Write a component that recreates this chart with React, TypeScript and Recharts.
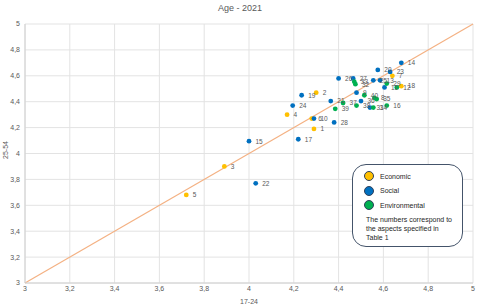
import React from 'react';
import {
  ScatterChart,
  Scatter,
  XAxis,
  YAxis,
  CartesianGrid,
  ReferenceLine,
  LabelList,
} from 'recharts';

// axis ticks (both axes share the 3..5 range)
const axisTicks = [3, 3.2, 3.4, 3.6, 3.8, 4, 4.2, 4.4, 4.6, 4.8, 5];

// Economic aspects
const economicIds = ['1', '2', '3', '4', '5', '6', '7', '18'];
const economicX = [4.29, 4.3, 3.89, 4.17, 3.72, 4.28, 4.64, 4.68];
const economicY = [4.19, 4.47, 3.9, 4.3, 3.68, 4.27, 4.6, 4.52];

// Social aspects
const socialIds = ['14', '20', '23', '26', '27', '25', '13', '11', '9', '19', '24', '10', '21', '36', '31', '28', '17', '15', '22'];
const socialX = [4.68, 4.575, 4.63, 4.4, 4.465, 4.555, 4.585, 4.605, 4.48, 4.235, 4.195, 4.29, 4.365, 4.5, 4.54, 4.38, 4.22, 4.0, 4.03];
const socialY = [4.7, 4.645, 4.63, 4.58, 4.58, 4.565, 4.565, 4.51, 4.47, 4.45, 4.37, 4.27, 4.405, 4.405, 4.355, 4.24, 4.11, 4.095, 3.77];

// Environmental aspects
const environmentalIds = ['33', '32', '29', '12', '40', '35', '37', '39', '38', '34', '16', '8'];
const environmentalX = [4.47, 4.475, 4.615, 4.66, 4.515, 4.57, 4.42, 4.385, 4.48, 4.555, 4.615, 4.56];
const environmentalY = [4.555, 4.535, 4.54, 4.51, 4.45, 4.42, 4.39, 4.345, 4.37, 4.355, 4.37, 4.43];

const toPoints = (ids: string[], xs: number[], ys: number[]) =>
  ids.map((id, i) => ({ id, x: xs[i], y: ys[i] }));

const economic = toPoints(economicIds, economicX, economicY);
const social = toPoints(socialIds, socialX, socialY);
const environmental = toPoints(environmentalIds, environmentalX, environmentalY);

const FONT = '"Liberation Sans", Arial, sans-serif';
const fmt = (v: number) => String(v).replace('.', ',');

const legendItems = [
  { name: 'Economic', color: '#FFC000' },
  { name: 'Social', color: '#0070C0' },
  { name: 'Environmental', color: '#00B050' },
];

// small dot, like the Excel markers
const dot = (color: string) => (props: any) => (
  <circle cx={props.cx} cy={props.cy} r={2.4} fill={color} />
);

export default function App() {
  const tick = { fontSize: 7, fill: '#595959', fontFamily: FONT };
  const pointLabel = { fontSize: 6.5, fill: '#595959', fontFamily: FONT };

  return (
    <div style={{ position: 'absolute', left: 0, top: 0, width: 480, height: 304, background: '#fff', fontFamily: FONT }}>
      <div style={{ position: 'absolute', top: 3, width: 480, textAlign: 'center', fontSize: 9, color: '#595959' }}>
        Age - 2021
      </div>
      <ScatterChart width={480} height={304} margin={{ top: 24, right: 7, bottom: 0, left: 0 }}>
        <CartesianGrid stroke="#e3e3e3" />
        <XAxis
          type="number"
          dataKey="x"
          domain={[3, 5]}
          ticks={axisTicks}
          tickFormatter={fmt}
          tickLine={false}
          tickSize={2}
          tickMargin={1}
          height={21}
          stroke="#d0d0d0"
          tick={tick}
          label={{ value: '17-24', position: 'insideBottom', offset: 0, style: { fontSize: 7, fill: '#595959', fontFamily: FONT } }}
        />
        <YAxis
          type="number"
          dataKey="y"
          domain={[3, 5]}
          ticks={axisTicks}
          tickFormatter={fmt}
          tickLine={false}
          tickSize={3}
          tickMargin={2}
          width={25}
          stroke="#d0d0d0"
          tick={tick}
          label={{
            content: () => (
              <text x={6} y={150} transform="rotate(-90 6 150)" textAnchor="middle" dominantBaseline="middle" fontSize={7} fill="#595959" fontFamily={FONT}>
                25-54
              </text>
            ),
          }}
        />
        <ReferenceLine segment={[{ x: 3, y: 3 }, { x: 5, y: 5 }]} stroke="#f4b183" strokeWidth={1.2} />
        <Scatter data={economic} shape={dot('#FFC000')} isAnimationActive={false}>
          <LabelList dataKey="id" position="right" offset={2} style={pointLabel} />
        </Scatter>
        <Scatter data={social} shape={dot('#0070C0')} isAnimationActive={false}>
          <LabelList dataKey="id" position="right" offset={2} style={pointLabel} />
        </Scatter>
        <Scatter data={environmental} shape={dot('#00B050')} isAnimationActive={false}>
          <LabelList dataKey="id" position="right" offset={2} style={pointLabel} />
        </Scatter>
      </ScatterChart>

      {/* legend box */}
      <div
        style={{
          position: 'absolute',
          left: 352,
          top: 164,
          width: 111,
          height: 83,
          border: '1.3px solid #44546a',
          borderRadius: 14,
          background: '#fff',
          boxSizing: 'border-box',
          color: '#262626',
          fontSize: 7,
        }}
      >
        {legendItems.map((item, i) => (
          <div key={item.name} style={{ position: 'absolute', left: 11, top: 6 + i * 14.5, display: 'flex', alignItems: 'center' }}>
            <span
              style={{
                display: 'inline-block',
                width: 10,
                height: 10,
                borderRadius: '50%',
                background: item.color,
                border: '1px solid #2f3f5a',
                boxSizing: 'border-box',
                marginRight: 6,
              }}
            />
            <span>{item.name}</span>
          </div>
        ))}
        <div style={{ position: 'absolute', left: 13, top: 50, lineHeight: '9px', width: 95 }}>
          The numbers correspond to
          <br />
          the aspects specified in
          <br />
          Table 1
        </div>
      </div>
    </div>
  );
}
